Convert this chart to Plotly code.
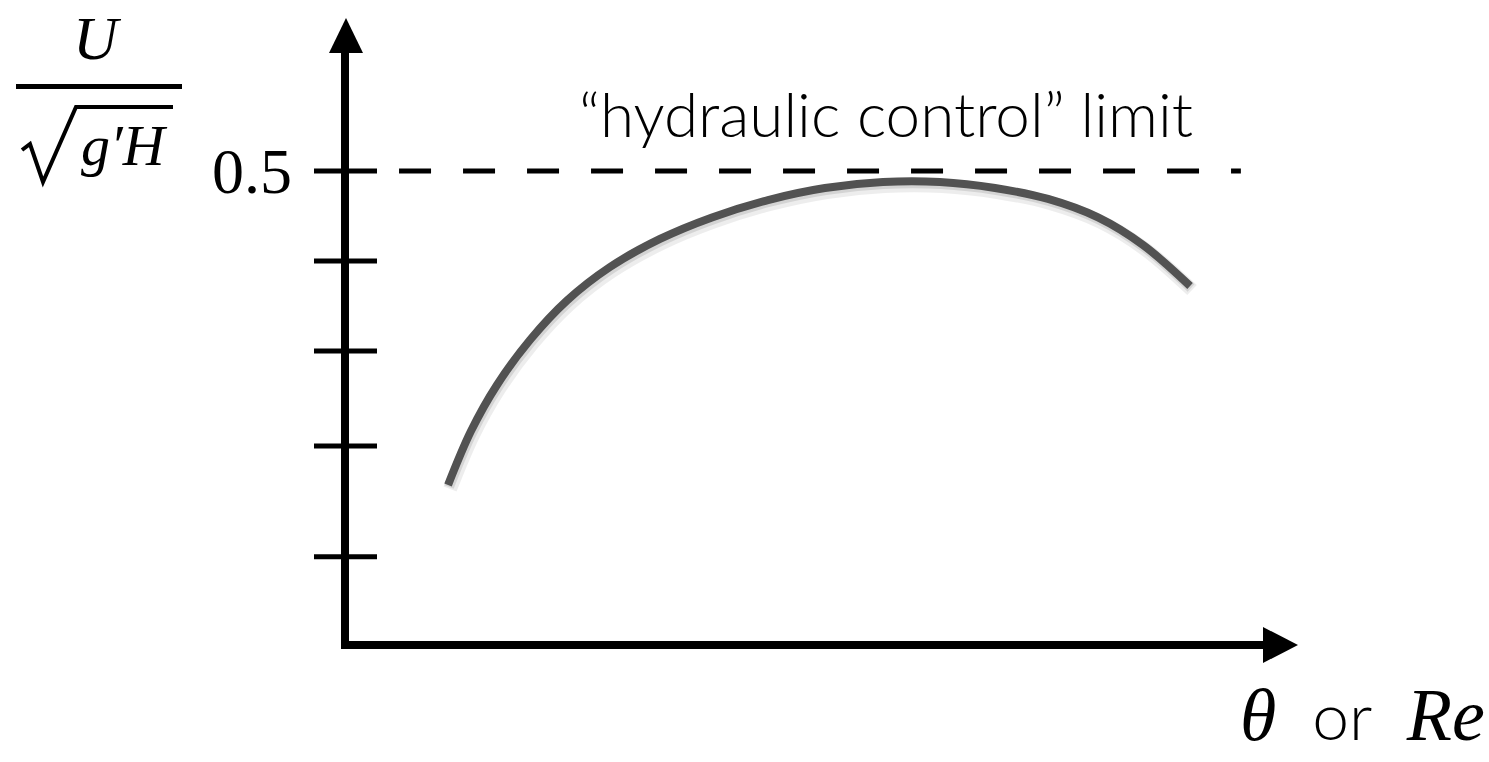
import plotly.graph_objects as go

# ---------------- data ----------------
curve_x = [0.1087, 0.1329, 0.1603, 0.1951, 0.2342, 0.2795, 0.3323, 0.3871, 0.4462,
           0.5063, 0.5675, 0.6276, 0.6857, 0.7416, 0.7943, 0.8418, 0.8914]
curve_y = [0.1688, 0.2257, 0.2743, 0.3217, 0.3634, 0.3987, 0.4283, 0.4510, 0.4694,
           0.4821, 0.4884, 0.4884, 0.4821, 0.4705, 0.4510, 0.4219, 0.3787]
limit_value = 0.5
limit_x = [0.057, 0.945]
tick_values = [0.5, 0.405, 0.31, 0.21, 0.093]
tick_labels = ["0.5", "", "", "", ""]

# ---------------- layout helpers (pixel -> axis units) ----------------
W, H = 1489, 762
X0, Y0, S = 345.0, 645.0, 948.0   # origin pixel and pixels per unit


def px2x(p):
    return (p - X0) / S


def px2y(p):
    return (Y0 - p) / S


fig = go.Figure()

# soft shadow of the curve
fig.add_trace(go.Scatter(
    x=[v + 2 / S for v in curve_x], y=[v - 4 / S for v in curve_y],
    mode="lines", line=dict(color="rgba(0,0,0,0.07)", width=14, shape="spline"),
    hoverinfo="skip", showlegend=False))
fig.add_trace(go.Scatter(
    x=[v + 1 / S for v in curve_x], y=[v - 2 / S for v in curve_y],
    mode="lines", line=dict(color="rgba(0,0,0,0.10)", width=10, shape="spline"),
    hoverinfo="skip", showlegend=False))
# the curve
fig.add_trace(go.Scatter(
    x=curve_x, y=curve_y, mode="lines",
    line=dict(color="#525252", width=8, shape="spline", smoothing=1.0),
    showlegend=False))

# dashed "hydraulic control" limit
fig.add_trace(go.Scatter(
    x=limit_x, y=[limit_value, limit_value], mode="lines",
    line=dict(color="black", width=5, dash="32px,32px"),
    showlegend=False))

shapes = []
# axes lines
shapes.append(dict(type="line", xref="x", yref="y", x0=0, x1=0,
                   y0=px2y(649), y1=px2y(50), line=dict(color="black", width=8)))
shapes.append(dict(type="line", xref="x", yref="y", x0=px2x(341), x1=px2x(1266),
                   y0=0, y1=0, line=dict(color="black", width=8)))
# arrow heads
shapes.append(dict(type="path", xref="x", yref="y", fillcolor="black",
                   line=dict(width=0),
                   path=f"M {px2x(329)} {px2y(53)} L {px2x(346)} {px2y(18)} "
                        f"L {px2x(363)} {px2y(53)} Z"))
shapes.append(dict(type="path", xref="x", yref="y", fillcolor="black",
                   line=dict(width=0),
                   path=f"M {px2x(1263)} {px2y(627)} L {px2x(1298)} {px2y(645)} "
                        f"L {px2x(1263)} {px2y(663)} Z"))
# tick marks crossing the axis
for tv in tick_values:
    shapes.append(dict(type="line", xref="x", yref="y", x0=px2x(314), x1=px2x(377),
                       y0=tv, y1=tv, line=dict(color="black", width=5)))
# fraction bar and radical of the y label
shapes.append(dict(type="line", xref="x", yref="y", x0=px2x(16), x1=px2x(182),
                   y0=px2y(86.5), y1=px2y(86.5), line=dict(color="black", width=5)))
shapes.append(dict(type="path", xref="x", yref="y", line=dict(color="black", width=4),
                   path=f"M {px2x(22)} {px2y(150)} L {px2x(30)} {px2y(144)} "
                        f"L {px2x(43)} {px2y(182)} L {px2x(76)} {px2y(107)} "
                        f"L {px2x(173)} {px2y(107)}"))

annotations = []
serif = "Liberation Serif"
# y label
annotations.append(dict(xref="x", yref="y", x=px2x(97), y=px2y(38), text="<i>U</i>",
                        showarrow=False, xanchor="center", yanchor="middle",
                        font=dict(family=serif, size=62, color="black")))
annotations.append(dict(xref="x", yref="y", x=px2x(124), y=px2y(145), text="<i>g′H</i>",
                        showarrow=False, xanchor="center", yanchor="middle",
                        font=dict(family=serif, size=58, color="black")))
# tick labels
for tv, tl in zip(tick_values, tick_labels):
    if tl:
        annotations.append(dict(xref="x", yref="y", x=px2x(294), y=tv, text=tl,
                                showarrow=False, xanchor="right", yanchor="middle",
                                font=dict(family=serif, size=64, color="black")))
# limit label
annotations.append(dict(xref="x", yref="y", x=px2x(886), y=px2y(113),
                        text="“hydraulic control” limit",
                        showarrow=False, xanchor="center", yanchor="middle",
                        font=dict(family="Lato", size=62, color="black", weight=300)))
# x label
annotations.append(dict(xref="x", yref="y", x=px2x(1487), y=px2y(715),
                        text=(f"<span style=\"font-family:{serif};font-size:74px\"><i>θ</i></span>"
                              "  or  "
                              f"<span style=\"font-family:{serif};font-size:74px\"><i>Re</i></span>"),
                        showarrow=False, xanchor="right", yanchor="middle",
                        font=dict(family="Lato", size=66, color="black", weight=300)))

fig.update_layout(
    width=W, height=H, autosize=False,
    margin=dict(l=0, r=0, t=0, b=0, pad=0),
    paper_bgcolor="white", plot_bgcolor="white",
    xaxis=dict(range=[px2x(0), px2x(W)], visible=False, fixedrange=True),
    yaxis=dict(range=[px2y(H), px2y(0)], visible=False, fixedrange=True),
    shapes=shapes, annotations=annotations, showlegend=False,
)

fig.write_html("out.html", config={"displayModeBar": False},
               post_script="document.body.style.margin='0';")
